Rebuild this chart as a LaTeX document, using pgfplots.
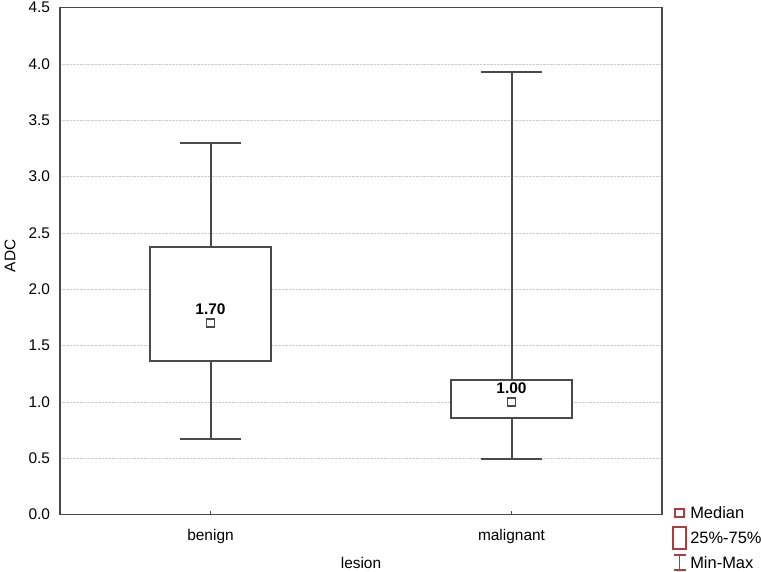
\documentclass[border=0pt]{standalone}
\usepackage{pgfplots}
\pgfplotsset{compat=1.18}
\usepgfplotslibrary{statistics}
\usepackage{fontspec}
\setmainfont{Liberation Sans}
\definecolor{boxc}{HTML}{4A4A4A}
\definecolor{legc}{HTML}{B03A3E}
\begin{document}
\begin{tikzpicture}
\begin{axis}[
  scale only axis, width=602bp, height=507bp,
  xmin=-0.5, xmax=1.5, ymin=0, ymax=4.5,
  xtick={0,1}, xticklabels={benign,malignant},
  ytick={0,0.5,...,4.5},
  yticklabel style={/pgf/number format/fixed,/pgf/number format/fixed zerofill,/pgf/number format/precision=1, xshift=-6.4bp},
  xticklabel style={yshift=-11bp},
  /pgf/number format/assume math mode=true,
  tick label style={font=\fontsize{15.5}{17}\selectfont, color=black},
  ymajorgrids, grid style={densely dotted, gray!40},
  ytick style={draw=none},
  xtick style={boxc, line width=1.2bp},
  xtick pos=bottom, xtick align=inside, major tick length=4bp,
  axis line style={boxc, line width=1.4bp},
  xlabel={lesion}, ylabel={ADC},
  label style={font=\fontsize{15.5}{17}\selectfont},
  xlabel style={at={(axis description cs:0.5,0)}, anchor=center, yshift=-48.5bp},
  ylabel style={at={(axis description cs:-0.083,0.51)}, anchor=center},
  boxplot/draw direction=y,
  boxplot/draw/median/.code={},
  legend style={draw=none, fill=none, at={(rel axis cs:1.0166,0.0275)}, anchor=north west,
    font=\fontsize{16.5}{18}\selectfont, row sep=0pt, column sep=0pt, inner sep=0pt,
    nodes={inner ysep=0pt, inner xsep=3.5bp, minimum height=25bp, fill=none}},
  legend cell align=left,
]
\addplot[boxc, line width=2bp, fill=white, solid, forget plot,
  boxplot prepared={draw position=0, lower whisker=0.667, lower quartile=1.365,
    median=1.70, upper quartile=2.372, upper whisker=3.293,
    box extend=0.405, whisker extend=0.203}] coordinates {};
\addplot[boxc, line width=2bp, fill=white, solid, forget plot,
  boxplot prepared={draw position=1, lower whisker=0.49, lower quartile=0.859,
    median=1.00, upper quartile=1.194, upper whisker=3.93,
    box extend=0.405, whisker extend=0.203}] coordinates {};
\addplot[only marks, mark=square, mark size=4bp, mark options={boxc, line width=1.4bp, fill=white},
  nodes near coords, point meta=explicit symbolic,
  every node near coord/.append style={font=\bfseries\fontsize{15.5}{17}\selectfont, black, anchor=south, yshift=4.5bp},
  forget plot] coordinates {(0,1.70)[1.70] (1,1.00)[1.00]};
\addlegendimage{color=legc, line width=1.6bp, legend image code/.code={\path[draw=none, fill=none] (0bp,-10bp) rectangle (14bp,10bp); \draw[color=legc, line width=1.6bp] (2.75bp,-4bp) rectangle (11.25bp,4bp);}}
\addlegendentry{Median}
\addlegendimage{color=legc, line width=1.6bp, legend image code/.code={\path[draw=none, fill=none] (0bp,-10bp) rectangle (14bp,10bp); \draw[color=legc, line width=1.6bp] (0.5bp,-11bp) rectangle (13.5bp,11bp);}}
\addlegendentry{25\%-75\%}
\addlegendimage{color=legc, line width=1.6bp, legend image code/.code={\path[draw=none, fill=none] (0bp,-10bp) rectangle (14bp,10bp); \draw[color=legc, line width=1.6bp] (1bp,-7bp)--(13bp,-7bp) (7bp,-7bp)--(7bp,8bp) (1bp,8bp)--(13bp,8bp);}}
\addlegendentry{Min-Max}
\end{axis}
\pgfresetboundingbox
\path[use as bounding box] ([xshift=-60bp,yshift=-57.5bp]current axis.south west) rectangle ([xshift=99bp,yshift=7.5bp]current axis.north east);
\end{tikzpicture}
\end{document}
